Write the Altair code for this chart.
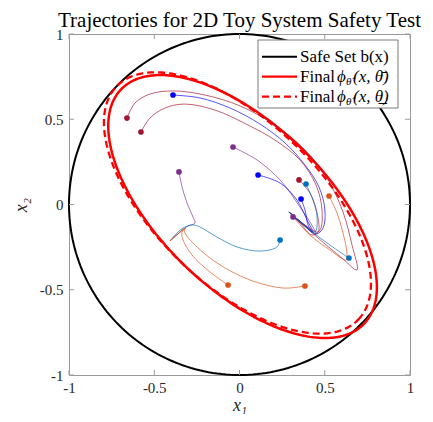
import altair as alt
import numpy as np
import pandas as pd

SERIF = "Liberation Serif"
AX = "#9a9a9a"

tick_values = [-1, -0.5, 0, 0.5, 1]

safe_radius = 1.0

# Final phi level sets, read off the picture as ellipse parameters
# (centre x, centre y, semi-major, semi-minor, angle of major axis in degrees)
ell_solid_params = [0.018, -0.012, 0.990, 0.485, -44.0]
ell_dash_params = [-0.012, 0.009, 0.985, 0.480, -44.0]

# Trajectories (first point = initial state dot)
traj_A_x = [-0.390, -0.232, -0.056, 0.120, 0.267, 0.384, 0.466, 0.501, 0.490, 0.449, 0.372, 0.290]
traj_A_y = [0.642, 0.625, 0.566, 0.472, 0.361, 0.232, 0.103, -0.032, -0.138, -0.173, -0.114, -0.044]
traj_B_x = [-0.660, -0.613, -0.525, -0.390, -0.202, 0.003, 0.208, 0.384, 0.519, 0.607, 0.660, 0.689, 0.601, 0.460, 0.355, 0.290]
traj_B_y = [0.507, 0.595, 0.648, 0.666, 0.642, 0.578, 0.466, 0.320, 0.144, -0.044, -0.238, -0.384, -0.314, -0.196, -0.103, -0.044]
traj_C_x = [-0.578, -0.525, -0.437, -0.320, -0.144, 0.050, 0.208, 0.355, 0.449, 0.484, 0.472, 0.425, 0.355, 0.290]
traj_C_y = [0.425, 0.507, 0.566, 0.589, 0.554, 0.466, 0.378, 0.261, 0.114, -0.032, -0.150, -0.179, -0.109, -0.044]
traj_D_x = [-0.038, 0.103, 0.238, 0.355, 0.431, 0.449, 0.372, 0.290]
traj_D_y = [0.337, 0.261, 0.144, -0.015, -0.132, -0.173, -0.114, -0.044]
traj_E_x = [-0.355, -0.337, -0.308, -0.273, -0.261, -0.302, -0.349, -0.408]
traj_E_y = [0.191, 0.103, 0.009, -0.073, -0.109, -0.126, -0.161, -0.214]
traj_F_x = [0.109, 0.238, 0.337, 0.396, 0.431, 0.372, 0.290]
traj_F_y = [0.173, 0.126, 0.026, -0.091, -0.161, -0.114, -0.044]
traj_G_x = [0.238, 0.220, 0.120, -0.015, -0.132, -0.232, -0.273, -0.331, -0.378, -0.408]
traj_G_y = [-0.208, -0.249, -0.273, -0.249, -0.191, -0.132, -0.120, -0.138, -0.179, -0.214]
traj_H_x = [0.349, 0.413, 0.455, 0.460, 0.384, 0.290]
traj_H_y = [0.144, 0.067, -0.050, -0.161, -0.120, -0.044]
traj_I_x = [0.390, 0.431, 0.455, 0.443, 0.372, 0.290]
traj_I_y = [0.120, 0.026, -0.073, -0.161, -0.114, -0.044]
traj_J_x = [0.361, 0.384, 0.402, 0.425, 0.372, 0.290]
traj_J_y = [0.032, -0.032, -0.120, -0.161, -0.114, -0.044]
traj_K_x = [0.525, 0.572, 0.607, 0.630, 0.625, 0.531, 0.413, 0.290]
traj_K_y = [0.050, -0.050, -0.167, -0.284, -0.326, -0.267, -0.179, -0.044]
traj_L_x = [0.314, 0.372, 0.425, 0.355, 0.290]
traj_L_y = [-0.073, -0.120, -0.155, -0.103, -0.044]
traj_M_x = [0.642, 0.531, 0.413, 0.290]
traj_M_y = [-0.314, -0.238, -0.150, -0.044]
traj_N_x = [-0.067, -0.173, -0.279, -0.331, -0.337, -0.314, -0.361, -0.408]
traj_N_y = [-0.472, -0.396, -0.296, -0.208, -0.161, -0.138, -0.173, -0.214]
traj_O_x = [0.384, 0.255, 0.062, -0.132, -0.273, -0.320, -0.326, -0.367, -0.408]
traj_O_y = [-0.478, -0.490, -0.443, -0.343, -0.226, -0.167, -0.144, -0.179, -0.214]

BLUE = "#0000FF"
DRED = "#A2142F"
PURP = "#7E2F8E"
ORNG = "#D95319"
LBLU = "#0072BD"

trajectories = [
    ("A", BLUE, traj_A_x, traj_A_y), ("B", DRED, traj_B_x, traj_B_y), ("C", DRED, traj_C_x, traj_C_y),
    ("D", PURP, traj_D_x, traj_D_y), ("E", PURP, traj_E_x, traj_E_y), ("F", BLUE, traj_F_x, traj_F_y),
    ("G", LBLU, traj_G_x, traj_G_y), ("H", DRED, traj_H_x, traj_H_y), ("I", LBLU, traj_I_x, traj_I_y),
    ("J", BLUE, traj_J_x, traj_J_y), ("K", ORNG, traj_K_x, traj_K_y), ("L", PURP, traj_L_x, traj_L_y),
    ("M", LBLU, traj_M_x, traj_M_y), ("N", ORNG, traj_N_x, traj_N_y), ("O", ORNG, traj_O_x, traj_O_y),
]

legend_labels = ["Safe Set b(x)", "Final", "ϕ", "θ̂", "(x, θ̄)", "(x, θ̲)"]


# ---------- tables ----------
def ellipse_df(params, n=240):
    cx, cy, a, b, ang = params
    t = np.linspace(0, 2 * np.pi, n, endpoint=False)
    p = np.deg2rad(ang)
    x = cx + a * np.cos(t) * np.cos(p) - b * np.sin(t) * np.sin(p)
    y = cy + a * np.cos(t) * np.sin(p) + b * np.sin(t) * np.cos(p)
    return pd.DataFrame({"i": np.arange(n), "x": x, "y": y})


rows = []
for name, col, xs, ys in trajectories:
    for i, (x, y) in enumerate(zip(xs, ys)):
        rows.append({"id": name, "col": col, "i": i, "x": x, "y": y})
traj_df = pd.DataFrame(rows)
start_df = traj_df[traj_df["i"] == 0]
tick_df = pd.DataFrame({"v": tick_values})

xsc = alt.Scale(domain=[-1, 1], nice=False, zero=False)
ysc = alt.Scale(domain=[-1, 1], nice=False, zero=False)

x_axis = alt.Axis(values=tick_values, labelExpr="toString(datum.value)", title="x₁", grid=False, domain=False,
                  ticks=False, labelFont=SERIF, labelFontSize=15, labelColor="#262626", labelPadding=5,
                  labelFlush=False, titleFont=SERIF, titleFontSize=18, titleFontStyle="italic",
                  titleFontWeight="normal", titleColor="#262626", titlePadding=1)
y_axis = alt.Axis(values=tick_values, labelExpr="toString(datum.value)", title="x₂", grid=False, domain=False,
                  ticks=False, labelFont=SERIF, labelFontSize=15, labelColor="#262626", labelPadding=6,
                  labelFlush=False, titleFont=SERIF, titleFontSize=18, titleFontStyle="italic",
                  titleFontWeight="normal", titleColor="#262626", titlePadding=9)


def X(f="x"):
    return alt.X(f + ":Q", scale=xsc, axis=x_axis)


def Y(f="y"):
    return alt.Y(f + ":Q", scale=ysc, axis=y_axis)


circle = alt.Chart(ellipse_df([0.0, 0.0, safe_radius, safe_radius, 0.0])).mark_line(
    color="black", strokeWidth=2, interpolate="linear-closed").encode(x=X(), y=Y(), order="i:Q")

ell_solid = alt.Chart(ellipse_df(ell_solid_params)).mark_line(
    color="#FF0000", strokeWidth=2.5, interpolate="linear-closed").encode(x=X(), y=Y(), order="i:Q")

ell_dash = alt.Chart(ellipse_df(ell_dash_params)).mark_line(
    color="#FF0000", strokeWidth=2.3, strokeDash=[7, 4], interpolate="linear-closed").encode(
    x=X(), y=Y(), order="i:Q")

traj_lines = alt.Chart(traj_df).mark_line(strokeWidth=0.9, opacity=0.75, interpolate="catmull-rom").encode(
    x=X(), y=Y(), detail="id:N", color=alt.Color("col:N", scale=None), order="i:Q")

traj_pts = alt.Chart(start_df).mark_circle(size=32, opacity=1).encode(
    x=X(), y=Y(), color=alt.Color("col:N", scale=None))

W = 341
tb = alt.Chart(tick_df).mark_rule(color=AX, strokeWidth=1).encode(x=X("v"), y=alt.value(W), y2=alt.value(W - 5))
tt = alt.Chart(tick_df).mark_rule(color=AX, strokeWidth=1).encode(x=X("v"), y=alt.value(0), y2=alt.value(5))
tl = alt.Chart(tick_df).mark_rule(color=AX, strokeWidth=1).encode(y=Y("v"), x=alt.value(0), x2=alt.value(5))
tr = alt.Chart(tick_df).mark_rule(color=AX, strokeWidth=1).encode(y=Y("v"), x=alt.value(W), x2=alt.value(W - 5))

# ---------- legend ----------
one = pd.DataFrame({"k": [0]})
leg_box = alt.Chart(one).mark_rect(fill="white", stroke="#7a7a7a", strokeWidth=1).encode(
    x=alt.value(189), x2=alt.value(329), y=alt.value(6), y2=alt.value(74))
ROWS = [22.7, 42.7, 62.7]
leg_l1 = alt.Chart(one).mark_rule(color="black", strokeWidth=2).encode(
    x=alt.value(193), x2=alt.value(228), y=alt.value(ROWS[0]))
leg_l2 = alt.Chart(one).mark_rule(color="#FF0000", strokeWidth=2.3).encode(
    x=alt.value(193), x2=alt.value(228), y=alt.value(ROWS[1]))
leg_l3 = alt.Chart(one).mark_rule(color="#FF0000", strokeWidth=2.3, strokeDash=[7, 4]).encode(
    x=alt.value(193), x2=alt.value(228), y=alt.value(ROWS[2]))


def leg_text(label, x, y, size=17, style="normal"):
    return alt.Chart(pd.DataFrame({"t": [label]})).mark_text(
        align="left", baseline="middle", font=SERIF, fontSize=size, fontStyle=style, color="black").encode(
        text="t:N", x=alt.value(x), y=alt.value(y))


legend_layers = [leg_box, leg_l1, leg_l2, leg_l3, leg_text(legend_labels[0], 231, ROWS[0])]
for r, tail in ((1, legend_labels[4]), (2, legend_labels[5])):
    legend_layers += [
        leg_text(legend_labels[1], 231, ROWS[r]),
        leg_text(legend_labels[2], 268, ROWS[r], style="italic"),
        leg_text(legend_labels[3], 277, ROWS[r] + 5, size=11, style="italic"),
        leg_text(tail, 284, ROWS[r], style="italic"),
    ]

chart = alt.layer(
    circle, ell_solid, ell_dash, traj_lines, traj_pts, tb, tt, tl, tr, *legend_layers
).properties(
    width=W, height=W,
    title=alt.TitleParams(text="Trajectories for 2D Toy System Safety Test", font=SERIF, fontSize=21,
                          fontWeight="normal", color="black", offset=-4, anchor="middle"),
    autosize=alt.AutoSizeParams(type="none"),
    padding={"left": 61, "top": 26, "right": 15, "bottom": 39},
).configure_view(stroke=AX, strokeWidth=1)

chart.save("out.html", embed_options={"renderer": "svg", "actions": False})
